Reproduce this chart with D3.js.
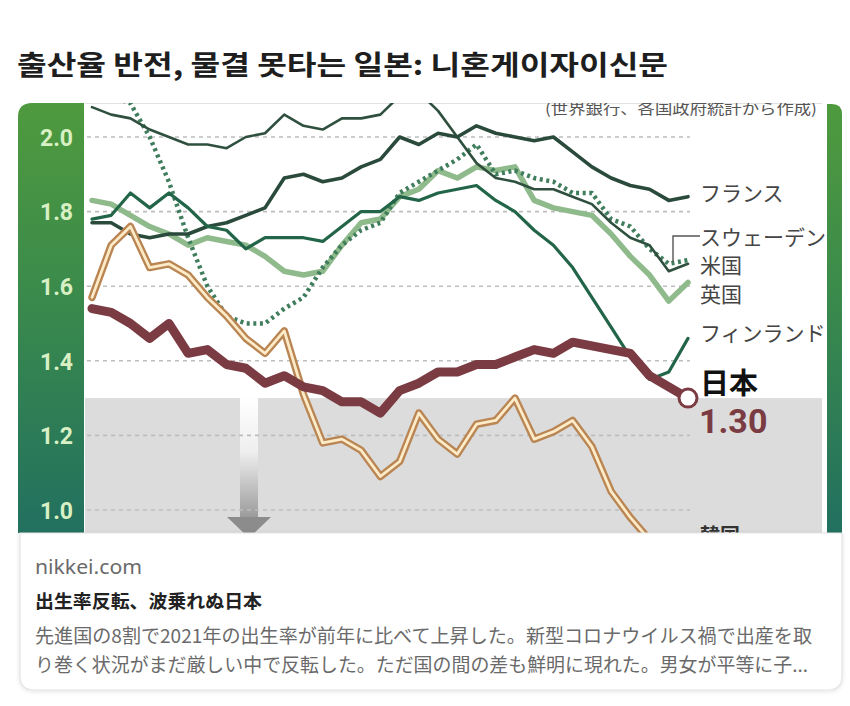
<!DOCTYPE html>
<html>
<head>
<meta charset="utf-8">
<script src="https://cdn.jsdelivr.net/npm/d3@7"></script>
<style>
  html, body { margin: 0; padding: 0; background: #ffffff; }
  svg { display: block; }
</style>
</head>
<body>
<svg id="chart" width="850" height="706"></svg>
<script>
// ---- data (total fertility rate) ----
const years = [1990,1991,1992,1993,1994,1995,1996,1997,1998,1999,2000,2001,2002,2003,2004,2005,2006,2007,2008,2009,2010,2011,2012,2013,2014,2015,2016,2017,2018,2019,2020,2021];
const japan   = [1.54,1.53,1.50,1.46,1.50,1.42,1.43,1.39,1.38,1.34,1.36,1.33,1.32,1.29,1.29,1.26,1.32,1.34,1.37,1.37,1.39,1.39,1.41,1.43,1.42,1.45,1.44,1.43,1.42,1.36,1.33,1.30];
const korea   = [1.57,1.71,1.76,1.65,1.66,1.63,1.57,1.52,1.46,1.42,1.48,1.31,1.18,1.19,1.16,1.09,1.13,1.26,1.19,1.15,1.23,1.24,1.30,1.19,1.21,1.24,1.17,1.05,0.98,0.92,0.84,0.81];
const france  = [1.77,1.77,1.74,1.73,1.74,1.74,1.76,1.77,1.79,1.81,1.89,1.90,1.88,1.89,1.92,1.94,2.00,1.98,2.01,2.00,2.03,2.01,2.00,1.99,2.00,1.96,1.92,1.89,1.87,1.86,1.83,1.84];
const usa     = [2.08,2.06,2.05,2.02,2.00,1.98,1.98,1.97,2.00,2.01,2.06,2.03,2.02,2.05,2.05,2.06,2.11,2.12,2.07,2.00,1.93,1.89,1.88,1.86,1.86,1.84,1.82,1.77,1.73,1.71,1.64,1.66];
const sweden  = [2.13,2.11,2.09,2.00,1.88,1.73,1.60,1.52,1.50,1.50,1.54,1.57,1.65,1.71,1.75,1.77,1.85,1.88,1.91,1.94,1.98,1.90,1.91,1.89,1.88,1.85,1.85,1.78,1.76,1.70,1.66,1.67];
const uk      = [1.83,1.82,1.79,1.76,1.74,1.71,1.73,1.72,1.71,1.68,1.64,1.63,1.64,1.71,1.77,1.78,1.84,1.86,1.91,1.89,1.92,1.91,1.92,1.83,1.81,1.80,1.79,1.74,1.68,1.63,1.56,1.61];
const finland = [1.78,1.79,1.85,1.81,1.85,1.81,1.76,1.75,1.70,1.73,1.73,1.73,1.72,1.76,1.80,1.80,1.84,1.83,1.85,1.86,1.87,1.83,1.80,1.75,1.71,1.65,1.57,1.49,1.41,1.35,1.37,1.46];
const yTicks = [1.0, 1.2, 1.4, 1.6, 1.8, 2.0];
const yTickLabels = ["1.0","1.2","1.4","1.6","1.8","2.0"];

const titleText = "출산율 반전, 물결 못타는 일본: 니혼게이자이신문";
const sourceText = "(世界銀行、各国政府統計から作成)";
const siteText = "nikkei.com";
const headText = "出生率反転、波乗れぬ日本";
const descLines = [
  "先進国の8割で2021年の出生率が前年に比べて上昇した。新型コロナウイルス禍で出産を取",
  "り巻く状況がまだ厳しい中で反転した。ただ国の間の差も鮮明に現れた。男女が平等に子..."
];

// ---- layout ----
const svg = d3.select("#chart");
const JP = "'Noto Sans CJK JP', 'Noto Sans', sans-serif";
const KR = "'Noto Sans CJK KR', 'Noto Sans', sans-serif";

const plot = { left: 85, right: 826, top: 103, bottom: 533 };
const x = d3.scaleLinear().domain([1990, 2021]).range([92, 688]);
const y = d3.scaleLinear().domain([1.0, 2.0]).range([510, 137]);

const defs = svg.append("defs");
const gLeft = defs.append("linearGradient").attr("id", "gLeft").attr("x1", 0).attr("y1", 0).attr("x2", 0).attr("y2", 1);
gLeft.append("stop").attr("offset", "0%").attr("stop-color", "#4f9a3e");
gLeft.append("stop").attr("offset", "45%").attr("stop-color", "#3a8a4c");
gLeft.append("stop").attr("offset", "100%").attr("stop-color", "#22705f");
const gArrow = defs.append("linearGradient").attr("id", "gArrow").attr("x1", 0).attr("y1", 0).attr("x2", 0).attr("y2", 1);
gArrow.append("stop").attr("offset", "0%").attr("stop-color", "#ffffff");
gArrow.append("stop").attr("offset", "45%").attr("stop-color", "#eeeeee");
gArrow.append("stop").attr("offset", "100%").attr("stop-color", "#9a9a9a");
defs.append("clipPath").attr("id", "clipPlot")
  .append("rect").attr("x", plot.left).attr("y", plot.top)
  .attr("width", plot.right - plot.left).attr("height", plot.bottom - plot.top);
defs.append("clipPath").attr("id", "clipTop")
  .append("rect").attr("x", 0).attr("y", plot.top).attr("width", 850).attr("height", 600);
const shadow = defs.append("filter").attr("id", "shadow").attr("x", "-5%").attr("y", "-10%").attr("width", "110%").attr("height", "130%");
shadow.append("feDropShadow").attr("dx", 0).attr("dy", 1).attr("stdDeviation", 2).attr("flood-color", "#000").attr("flood-opacity", 0.12);

// title
svg.append("text").attr("x", 17).attr("y", 75)
  .attr("font-family", KR).attr("font-weight", 700).attr("font-size", 27)
  .attr("fill", "#1e1e1e").attr("textLength", 651).attr("lengthAdjust", "spacingAndGlyphs")
  .text(titleText);

// plot background
svg.append("rect").attr("x", plot.left).attr("y", plot.top)
  .attr("width", plot.right - plot.left).attr("height", plot.bottom - plot.top).attr("fill", "#ffffff");
svg.append("line").attr("x1", plot.left).attr("x2", 822).attr("y1", plot.top + 0.5).attr("y2", plot.top + 0.5)
  .attr("stroke", "#e2e2e2").attr("stroke-width", 1);

// gray band below Japan's current level
svg.append("rect").attr("x", plot.left).attr("y", y(1.30))
  .attr("width", 822 - plot.left).attr("height", plot.bottom - y(1.30)).attr("fill", "#dcdcdc");

// arrow
svg.append("rect").attr("x", 240).attr("y", y(1.30)).attr("width", 18).attr("height", 518 - y(1.30)).attr("fill", "url(#gArrow)");
svg.append("path").attr("d", "M227,517 L271,517 L249,538 Z").attr("fill", "#8c8c8c");

// gridlines
svg.append("g").selectAll("line").data(yTicks).join("line")
  .attr("x1", plot.left + 2).attr("x2", 690)
  .attr("y1", d => y(d)).attr("y2", d => y(d))
  .attr("stroke", "#bdbdbd").attr("stroke-width", 1.6).attr("stroke-dasharray", "4,4");

// left green axis bar (rounded top-left)
const lb = { x0: 18, x1: 84, y0: 103, y1: 533, r: 14 };
svg.append("path").attr("d",
  `M${lb.x0},${lb.y1} L${lb.x0},${lb.y0 + lb.r} Q${lb.x0},${lb.y0} ${lb.x0 + lb.r},${lb.y0} L${lb.x1},${lb.y0} L${lb.x1},${lb.y1} Z`)
  .attr("fill", "url(#gLeft)");
// right green bar (rounded top-right)
const rb = { x0: 827, x1: 842, y0: 104, y1: 533, r: 10 };
svg.append("path").attr("d",
  `M${rb.x0},${rb.y1} L${rb.x0},${rb.y0} L${rb.x1 - rb.r},${rb.y0} Q${rb.x1},${rb.y0} ${rb.x1},${rb.y0 + rb.r} L${rb.x1},${rb.y1} Z`)
  .attr("fill", "url(#gLeft)");

// y axis (labels on green bar)
const yAxis = d3.axisLeft(y).tickValues(yTicks).tickFormat((d, i) => yTickLabels[i]).tickSize(0).tickPadding(0);
const ax = svg.append("g").attr("transform", "translate(73,0)").call(yAxis);
ax.select(".domain").remove();
ax.selectAll("text").attr("font-family", "Roboto, 'Liberation Sans', sans-serif").attr("font-weight", 700)
  .attr("font-size", 23).attr("fill", "#d8f0c4").attr("dy", "0.36em");

// source note (top edge cropped like the reference)
svg.append("text").attr("x", 817).attr("y", 114).attr("text-anchor", "end")
  .attr("clip-path", "url(#clipTop)")
  .attr("font-family", JP).attr("font-size", 15).attr("fill", "#555")
  .attr("textLength", 272).attr("lengthAdjust", "spacingAndGlyphs")
  .text(sourceText);

// lines
const lines = svg.append("g").attr("clip-path", "url(#clipPlot)");
const lineGen = d3.line().x((d, i) => x(years[i])).y(d => y(d)).curve(d3.curveLinear);
function drawLine(vals, opts) {
  lines.append("path").datum(vals).attr("d", lineGen)
    .attr("fill", "none").attr("stroke", opts.color).attr("stroke-width", opts.width)
    .attr("stroke-linejoin", "round").attr("stroke-linecap", opts.cap || "round")
    .attr("stroke-dasharray", opts.dash || null);
}
drawLine(uk, { color: "#8fba8b", width: 5.5 });
drawLine(sweden, { color: "#3f7d5c", width: 4.5, dash: "3,3.6", cap: "butt" });
drawLine(usa, { color: "#30503f", width: 2.6 });
drawLine(france, { color: "#2a4a3c", width: 3.6 });
drawLine(finland, { color: "#236548", width: 3.2 });
drawLine(korea, { color: "#b98553", width: 7.5 });
drawLine(korea, { color: "#fdebc8", width: 2.8 });
drawLine(japan, { color: "#7b3b42", width: 9 });

// endpoint marker for Japan
svg.append("circle").attr("cx", x(2021)).attr("cy", y(japan[japan.length - 1])).attr("r", 9)
  .attr("fill", "#ffffff").attr("stroke", "#7b3b42").attr("stroke-width", 3);

// bracket for Sweden label
svg.append("path").attr("d", "M700,236 H673 V262").attr("fill", "none").attr("stroke", "#555").attr("stroke-width", 1.4);

// labels
const lab = svg.append("g").attr("font-family", JP);
const labels = [
  { t: "フランス", y: 201, size: 21, w: 400, c: "#454545" },
  { t: "スウェーデン", y: 245, size: 21, w: 400, c: "#454545" },
  { t: "米国", y: 273, size: 21, w: 400, c: "#454545" },
  { t: "英国", y: 302, size: 21, w: 400, c: "#454545" },
  { t: "フィンランド", y: 341, size: 21, w: 400, c: "#454545" },
  { t: "日本", y: 394, size: 29, w: 700, c: "#111111" },
  { t: "韓国", y: 543, size: 20, w: 700, c: "#333333" }
];
lab.selectAll("text").data(labels).join("text")
  .attr("x", 700).attr("y", d => d.y).attr("font-size", d => d.size)
  .attr("font-weight", d => d.w).attr("fill", d => d.c).text(d => d.t);
svg.append("text").attr("x", 699).attr("y", 433)
  .attr("font-family", "Roboto, 'Liberation Sans', sans-serif").attr("font-weight", 700).attr("font-size", 34)
  .attr("fill", "#7b3b42").text(d3.format(".2f")(japan[japan.length - 1]));

// card below
const card = { x0: 20, x1: 842, y0: 533, y1: 690, r: 14 };
svg.append("path").attr("d",
  `M${card.x0},${card.y0} L${card.x1},${card.y0} L${card.x1},${card.y1 - card.r} Q${card.x1},${card.y1} ${card.x1 - card.r},${card.y1} L${card.x0 + card.r},${card.y1} Q${card.x0},${card.y1} ${card.x0},${card.y1 - card.r} Z`)
  .attr("fill", "#ffffff").attr("stroke", "#e3e3e3").attr("stroke-width", 1.2).attr("filter", "url(#shadow)");

svg.append("text").attr("x", 35).attr("y", 574).attr("font-family", "'Noto Sans', Roboto, sans-serif")
  .attr("font-size", 19).attr("fill", "#6a6a6a").attr("textLength", 107).attr("lengthAdjust", "spacingAndGlyphs").text(siteText);
svg.append("text").attr("x", 35).attr("y", 608).attr("font-family", JP).attr("font-weight", 700)
  .attr("font-size", 18.5).attr("fill", "#222").attr("textLength", 227).attr("lengthAdjust", "spacingAndGlyphs").text(headText);
const descLen = [777, 773];
svg.append("g").selectAll("text").data(descLines).join("text")
  .attr("x", 35).attr("y", (d, i) => 643 + i * 29)
  .attr("font-family", JP).attr("font-size", 19).attr("fill", "#6a6a6a")
  .attr("textLength", (d, i) => descLen[i]).attr("lengthAdjust", "spacingAndGlyphs").text(d => d);
</script>
</body>
</html>
